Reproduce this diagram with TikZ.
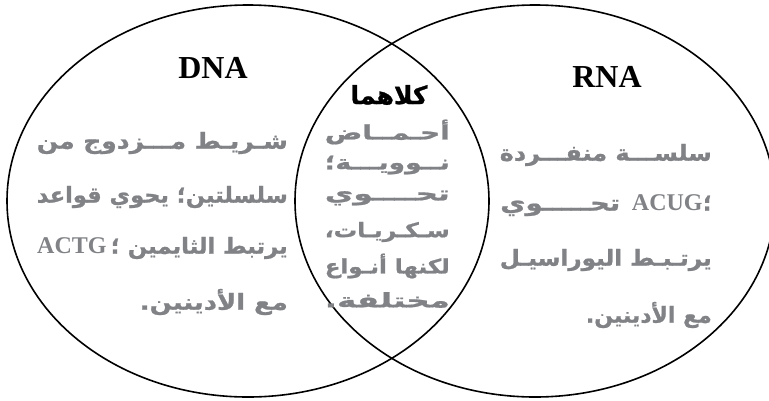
\documentclass[tikz,border=0pt]{standalone}
\usepackage{fontspec}
\usepackage{graphicx}
\setmainfont{Liberation Serif}
\newfontfamily\arabicfont[Script=Arabic, BoldFeatures={FakeBold=1}]{DejaVu Sans}
\TeXXeTstate=1
\definecolor{textgray}{RGB}{128,130,134}

\tikzset{
  settitle/.style={inner sep=0pt, font=\bfseries\fontsize{32}{33}\selectfont},
  sidetext/.style={anchor=east, inner sep=0pt, text=textgray, font=\arabicfont\bfseries\fontsize{22}{24}\selectfont},
  midtext/.style={sidetext, font=\arabicfont\bfseries\fontsize{20}{22}\selectfont},
  lattext/.style={inner sep=0pt, text=textgray, font=\bfseries\fontsize{24}{25}\selectfont}
}
\newcommand{\fitline}[2]{\resizebox{#1}{\height}{#2}}

\begin{document}
\begin{tikzpicture}[x=1pt,y=-1pt]
				\useasboundingbox (0,0) rectangle (769,400);
				\coordinate (L) at (248,201);
				\coordinate (R) at (535,201);
				\coordinate (dl) at (37,0);
				\coordinate (rr) at (712,0);
				
				\draw[line width=1.6pt] (L) ellipse (241 and 196);
				\draw[line width=1.6pt] (R) ellipse (240 and 196);
				
				\node[settitle] (dna) at (213,68) {DNA};
				\node[settitle] (rna) at (607,77) {RNA};
				\node[settitle, font=\arabicfont\bfseries\fontsize{25}{26}\selectfont] (both) at (389,95) {\beginR كلاهما\endR};
				
				% DNA side
				\node[sidetext] (d1) at (288,143) {\fitline{251pt}{\beginR شـريـط مـــزدوج من\endR}};
				\node[sidetext] (d2) at (288,197) {\fitline{251pt}{\beginR سلسلتين؛ يحوي قواعد\endR}};
				\node[sidetext] (d3) at (288,248) {\fitline{160pt}{\beginR يرتبط الثايمين\endR}};
				\node[lattext, anchor=base west] (d3a) at (d3.base -| dl) {ACTG};
				\node[sidetext, anchor=base west] (d3b) at ([xshift=4pt]d3a.base east) {؛};
				\node[sidetext] (d4) at (288,302) {\fitline{148pt}{\beginR مع الأدينين.\endR}};
				
				% RNA side
				\node[sidetext] (r1) at (712,155) {\fitline{212pt}{\beginR سلســـة منفـــردة\endR}};
				\node[sidetext, anchor=west] (r2) at (500,208) {\fitline{120pt}{\beginR تحـــــوي\endR}};
				\node[sidetext, anchor=base east] (r2c) at (r2.base -| rr) {؛};
				\node[lattext, anchor=base east] (r2b) at (r2c.base west) {ACUG};
				\node[sidetext] (r3) at (712,260) {\fitline{212pt}{\beginR يرتـبـط اليوراسيـل\endR}};
				\node[sidetext] (r4) at (712,315) {\beginR مع الأدينين.\endR};
				
				% both
				\node[midtext] (m1) at (450,132) {\fitline{125pt}{\beginR أحـمــاض\endR}};
				\node[midtext] (m2) at (450,165) {\fitline{125pt}{\beginR نــوويـــة؛\endR}};
				\node[midtext] (m3) at (450,198) {\fitline{125pt}{\beginR تحــــوي\endR}};
				\node[midtext] (m4) at (450,232) {\fitline{125pt}{\beginR سـكـريـات،\endR}};
				\node[midtext] (m5) at (450,266) {\fitline{125pt}{\beginR لكنها أنـواع\endR}};
				\node[midtext] (m6) at (450,300) {\fitline{125pt}{\beginR مختلفة.\endR}};
			\end{tikzpicture}
\end{document}
